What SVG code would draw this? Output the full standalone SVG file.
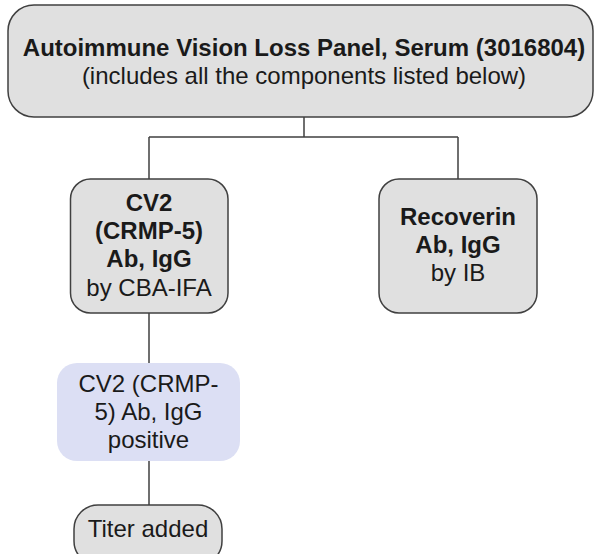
<svg xmlns="http://www.w3.org/2000/svg" width="595" height="554" viewBox="0 0 595 554">
<style>
.box{fill:#e0e0e0;stroke:#404040;stroke-width:1.5}
.blue{fill:#dcdff4;stroke:none}
.t{font-family:"Liberation Sans",Arial,sans-serif;font-size:24px;fill:#1a1a1a;text-anchor:middle}
.b{font-weight:bold}
.c{fill:none;stroke:#404040;stroke-width:1.5}
</style>
<rect width="595" height="554" fill="#ffffff"/>
<g id="connectors">
<path class="c" d="M304,117 V137 M149,137 H458 M149,137 V179 M458,137 V179 M149,313 V363 M149,461 V505"/>
</g>
<g id="panel">
<rect class="box" x="8" y="5" width="585" height="112" rx="26"/>
<text class="t b" x="304" y="56">Autoimmune Vision Loss Panel, Serum (3016804)</text>
<text class="t" x="304" y="84">(includes all the components listed below)</text>
</g>
<g id="cv2">
<rect class="box" x="70.5" y="179" width="157.5" height="134" rx="20"/>
<text class="t b" x="149" y="211">CV2</text>
<text class="t b" x="149" y="239">(CRMP-5)</text>
<text class="t b" x="149" y="267">Ab, IgG</text>
<text class="t" x="149" y="296">by CBA-IFA</text>
</g>
<g id="recoverin">
<rect class="box" x="379" y="179" width="158" height="134" rx="20"/>
<text class="t b" x="458" y="225">Recoverin</text>
<text class="t b" x="458" y="253">Ab, IgG</text>
<text class="t" x="458" y="281">by IB</text>
</g>
<g id="positive">
<rect class="blue" x="57" y="363" width="183" height="98" rx="20"/>
<text class="t" x="148.5" y="392">CV2 (CRMP-</text>
<text class="t" x="148.5" y="420">5) Ab, IgG</text>
<text class="t" x="148.5" y="448">positive</text>
</g>
<g id="titer">
<rect class="box" x="74" y="505" width="148" height="60" rx="24"/>
<text class="t" x="148" y="537">Titer added</text>
</g>
</svg>
